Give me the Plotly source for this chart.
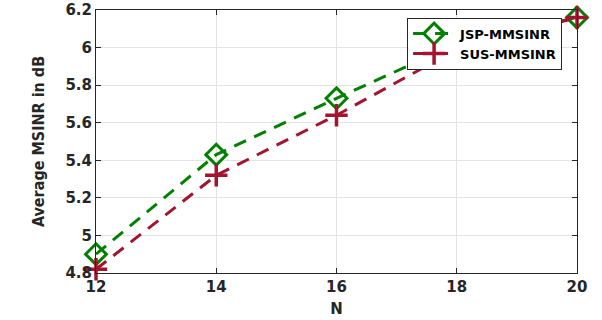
import plotly.graph_objects as go

# Number of antennas N and average MSINR (dB) for each scheme
n_values = [12, 14, 16, 18, 20]
jsp_mmsinr = [4.90, 5.43, 5.73, 6.02, 6.16]
sus_mmsinr = [4.82, 5.32, 5.64, 5.99, 6.16]

x_ticks = [12, 14, 16, 18, 20]
y_ticks = [4.8, 5.0, 5.2, 5.4, 5.6, 5.8, 6.0, 6.2]
y_tick_text = ["4.8", "5", "5.2", "5.4", "5.6", "5.8", "6", "6.2"]

green = "#008000"
crimson = "#A2142F"
dash_pattern = "13px,9px"

fig = go.Figure()
fig.add_trace(go.Scatter(
    x=n_values, y=jsp_mmsinr, name="JSP-MMSINR", mode="lines+markers",
    line=dict(color=green, width=3, dash=dash_pattern),
    marker=dict(symbol="diamond-open", size=16, color=green, line=dict(width=3, color=green)),
    cliponaxis=False,
))
fig.add_trace(go.Scatter(
    x=n_values, y=sus_mmsinr, name="SUS-MMSINR", mode="lines+markers",
    line=dict(color=crimson, width=3, dash=dash_pattern),
    marker=dict(symbol="cross-thin-open", size=16, color=crimson, line=dict(width=3.5, color=crimson)),
    cliponaxis=False,
))

tick_font = dict(family="DejaVu Sans, sans-serif", size=15, color="#262626", weight="bold")
x_title_font = dict(family="DejaVu Sans, sans-serif", size=15, color="#262626", weight="bold")
y_title_font = dict(family="DejaVu Sans Condensed, Liberation Sans Narrow, Liberation Sans, sans-serif",
                    size=16, color="#262626", weight="bold")

axis_common = dict(
    showline=True, linecolor="#262626", linewidth=1, mirror="ticks",
    ticks="inside", ticklen=5, tickcolor="#262626", tickwidth=1,
    showgrid=True, gridcolor="#e3e3e3", gridwidth=1,
    zeroline=False, tickfont=tick_font, automargin=False,
)

fig.update_layout(
    width=602, height=320,
    margin=dict(l=96, r=25, t=9.5, b=47),
    paper_bgcolor="white", plot_bgcolor="white",
    xaxis=dict(range=[12, 20], tickvals=x_ticks,
               title=dict(text="N", font=x_title_font, standoff=8), **axis_common),
    yaxis=dict(range=[4.8, 6.2], tickvals=y_ticks, ticktext=y_tick_text,
               title=dict(text="Average MSINR in dB", font=y_title_font, standoff=16), **axis_common),
    legend=dict(
        x=0.969, y=0.971, xanchor="right", yanchor="top",
        bgcolor="white", bordercolor="#262626", borderwidth=1,
        font=dict(family="DejaVu Sans, sans-serif", size=13, color="black", weight="bold"),
        tracegroupgap=0, itemwidth=42,
    ),
    showlegend=True,
)

fig.write_html("out.html")
